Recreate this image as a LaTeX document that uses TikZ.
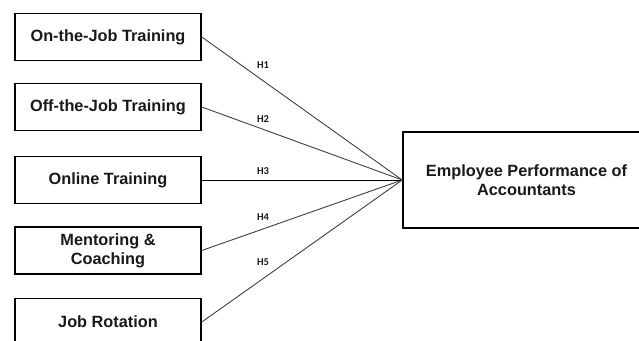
\documentclass[tikz,border=0pt]{standalone}
\usepackage{fontspec}
\setmainfont{Liberation Sans}
\newfontfamily\hfont{Carlito}
\tikzset{
  box/.style={draw=black, line width=1.6pt, minimum width=186pt, minimum height=47pt, inner sep=0pt, align=center, font=\fontsize{16.3}{19}\selectfont\bfseries, text=black!90},
  link/.style={draw=black!75, line width=0.9pt},
  hlab/.style={font=\hfont\fontsize{10.5}{12}\selectfont\bfseries, inner sep=0pt, text=black!90}
}
\begin{document}
\begin{tikzpicture}[x=1pt,y=-1pt]
\useasboundingbox (0,0) rectangle (639,340);
\clip (0,0) rectangle (639,340);
\node[box] (b1) at (108,37) {On-the-Job Training};
\node[box] (b2) at (108,107) {Off-the-Job Training};
\node[box] (b3) at (108,180) {Online Training};
\node[box] (b4) at (108,250.5) {Mentoring \&\\Coaching};
\node[box] (b5) at (108,322) {Job Rotation};
\node[box, minimum width=247pt, minimum height=96pt] (emp) at (526.5,180) {Employee Performance of\\Accountants};
\draw[link] (b1.east) -- (emp.west);
\draw[link] (b2.east) -- (emp.west);
\draw[link, draw=black] (b3.east) -- (emp.west);
\draw[link] (b4.east) -- (emp.west);
\draw[link] (b5.east) -- (emp.west);
\node[hlab] (h1) at (263,65) {H1};
\node[hlab] (h2) at (263,119) {H2};
\node[hlab] (h3) at (263,171) {H3};
\node[hlab] (h4) at (263,217) {H4};
\node[hlab] (h5) at (263,262) {H5};
\end{tikzpicture}
\end{document}
